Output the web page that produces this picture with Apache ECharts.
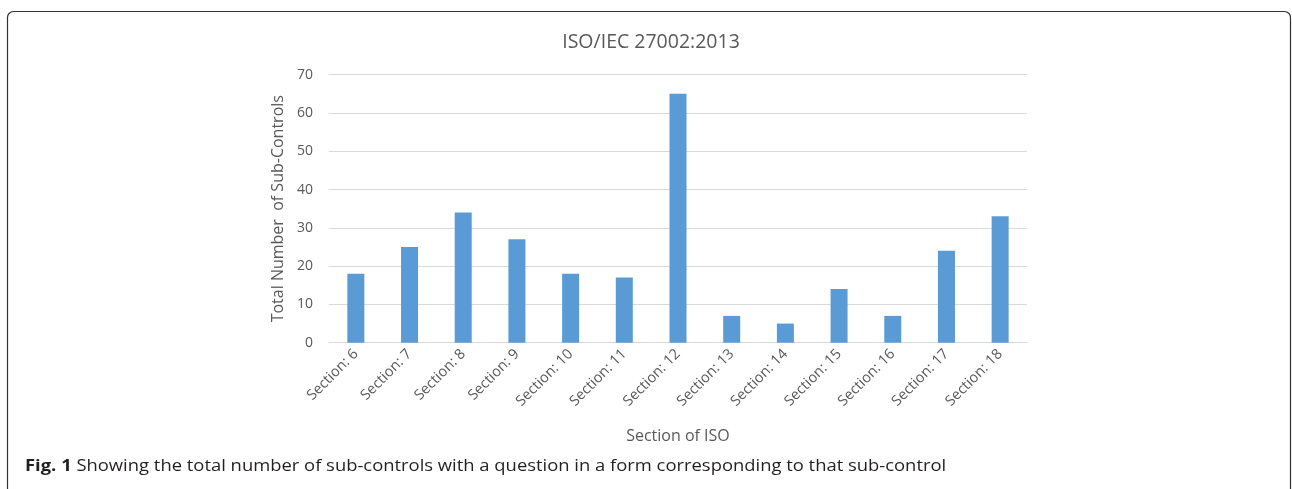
<!DOCTYPE html>
<html>
<head>
<meta charset="utf-8">
<script src="https://cdn.jsdelivr.net/npm/echarts@6/dist/echarts.min.js"></script>
<style>
  html, body { margin: 0; padding: 0; background: #fff; }
  #main { width: 1292px; height: 489px; }
</style>
</head>
<body>
<div id="main"></div>
<script>
// data
const sections = ['Section: 6', 'Section: 7', 'Section: 8', 'Section: 9', 'Section: 10', 'Section: 11',
  'Section: 12', 'Section: 13', 'Section: 14', 'Section: 15', 'Section: 16', 'Section: 17', 'Section: 18'];
const subControls = [18, 25, 34, 27, 18, 17, 65, 7, 5, 14, 7, 24, 33];

const chartTitle = 'ISO/IEC 27002:2013';
const yName = 'Total Number  of Sub-Controls';
const xName = 'Section of ISO';
const captionBold = 'Fig. 1';
const captionText = ' Showing the total number of sub-controls with a question in a form corresponding to that sub-control';

const grey = '#595959';
let myChart = echarts.init(document.getElementById('main'));

let option = {
  backgroundColor: '#fff',
  animation: false,
  title: {
    text: chartTitle,
    left: 646,
    top: 27,
    textAlign: 'center',
    textStyle: { fontFamily: 'Open Sans', fontSize: 19.5, fontWeight: 'normal', color: grey }
  },
  grid: { left: 329, right: 265, top: 74.7, bottom: 146.3, containLabel: false },
  xAxis: {
    type: 'category',
    data: sections,
    name: xName,
    nameLocation: 'middle',
    nameGap: 86,
    nameTextStyle: { fontFamily: 'Open Sans', fontSize: 16, color: grey },
    axisLine: { lineStyle: { color: '#d9d9d9', width: 1 } },
    axisTick: { show: false },
    axisLabel: { rotate: 45, interval: 0, margin: 9, fontFamily: 'Open Sans', fontSize: 14.5, color: grey }
  },
  yAxis: {
    type: 'value',
    min: 0, max: 70, interval: 10,
    name: yName,
    nameLocation: 'middle',
    nameRotate: 90,
    nameGap: 40,
    nameTextStyle: { fontFamily: 'Open Sans', fontSize: 16, color: grey },
    axisLine: { show: false },
    axisTick: { show: false },
    axisLabel: { margin: 16, fontFamily: 'Open Sans', fontSize: 14, color: grey },
    splitLine: { lineStyle: { color: '#d9d9d9', width: 1 } }
  },
  series: [{
    type: 'bar',
    data: subControls,
    barWidth: 17,
    itemStyle: { color: '#5b9bd5' }
  }],
  graphic: [
    {
      type: 'rect',
      shape: { x: 7.5, y: 11.5, width: 1283, height: 520, r: 6 },
      style: { fill: 'none', stroke: '#333', lineWidth: 1.2 },
      silent: true
    },
    {
      // the figure caption is set a bit wide in the source
      type: 'text',
      x: 25,
      y: 466,
      scaleX: 1.115,
      style: {
        text: '{b|' + captionBold + '}{n|' + captionText + '}',
        verticalAlign: 'middle',
        rich: {
          b: { fontFamily: 'Open Sans', fontWeight: 'bold', fontSize: 16.5, fill: '#231f20' },
          n: { fontFamily: 'Open Sans', fontSize: 16.5, fill: '#231f20' }
        }
      }
    }
  ]
};

myChart.setOption(option);
</script>
</body>
</html>
